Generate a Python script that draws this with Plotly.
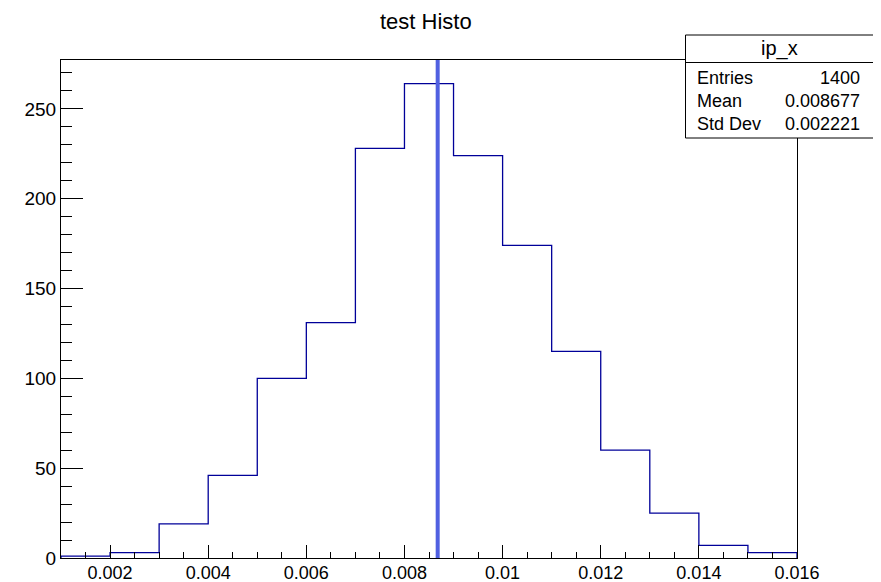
import plotly.graph_objects as go

# ---- data ----
bin_edges = [0.001, 0.002, 0.003, 0.004, 0.005, 0.006, 0.007, 0.008,
             0.009, 0.010, 0.011, 0.012, 0.013, 0.014, 0.015, 0.016]
counts = [1, 3, 19, 46, 100, 131, 228, 264, 224, 174, 115, 60, 25, 7, 3]
x_tickvals = [0.002, 0.004, 0.006, 0.008, 0.010, 0.012, 0.014, 0.016]
x_ticktext = ["0.002", "0.004", "0.006", "0.008", "0.01", "0.012", "0.014", "0.016"]
stat_title = "ip_x"
stat_labels = ["Entries", "Mean", "Std Dev"]
stat_values = ["1400", "0.008677", "0.002221"]
mean_value = 0.008677
title_text = "test Histo"

FONT = "Liberation Sans, Arial, Helvetica, sans-serif"
# page body has an 8px margin; target pixel positions below are in window coords
OFF = 8
WIN_W, WIN_H = 881, 582
PL, PR, PT, PB = 61, 797, 60, 558   # plot frame in window coords
W, H = WIN_W - OFF, WIN_H - OFF
L, T = PL - OFF, PT - OFF
R, B = W - (PR - OFF), H - (PB - OFF)
PW, PH = PR - PL, PB - PT


def px(xp):
    return (xp - PL) / PW


def py(yp):
    return (PB - yp) / PH


xs = [bin_edges[0]] + bin_edges + [bin_edges[-1]]
ys = [0] + counts + [counts[-1], 0]

fig = go.Figure()
fig.add_trace(go.Scatter(
    x=xs, y=ys, mode="lines", line=dict(color="#000099", width=1.3, shape="hv"),
    hoverinfo="skip", showlegend=False))

ymax = max(counts) * 1.05

# mean line
fig.add_trace(go.Scatter(
    x=[mean_value, mean_value], y=[0, ymax], mode="lines",
    line=dict(color="rgb(80,96,225)", width=4), showlegend=False, hoverinfo="skip"))

fig.update_xaxes(
    range=[bin_edges[0], bin_edges[-1]], tickvals=x_tickvals, ticktext=x_ticktext,
    ticks="inside", ticklen=13, tickcolor="black", tickwidth=1,
    minor=dict(dtick=0.0005, ticks="inside", ticklen=6, tickcolor="black", tickwidth=1),
    showline=True, linecolor="black", linewidth=1, mirror=True,
    showgrid=False, zeroline=False, automargin=False, ticklabelstandoff=-2,
    tickfont=dict(family=FONT, size=18, color="black"))
fig.update_yaxes(
    range=[0, ymax], tick0=0, dtick=50,
    ticks="inside", ticklen=22, tickcolor="black", tickwidth=1,
    minor=dict(dtick=10, ticks="inside", ticklen=11, tickcolor="black", tickwidth=1),
    showline=True, linecolor="black", linewidth=1, mirror=True,
    showgrid=False, zeroline=False, automargin=False,
    tickfont=dict(family=FONT, size=19, color="black"))

shapes = []
annotations = []
# stats box
bx0, bx1, by0, by1, bsep = 685.5, 874, 35, 138, 62.5
shapes.append(dict(type="rect", xref="paper", yref="paper",
                   x0=px(bx0), x1=px(bx1), y0=py(by1), y1=py(by0),
                   line=dict(color="black", width=1), fillcolor="white", layer="above"))
shapes.append(dict(type="line", xref="paper", yref="paper",
                   x0=px(bx0), x1=px(bx1), y0=py(bsep), y1=py(bsep),
                   line=dict(color="black", width=1), layer="above"))
annotations.append(dict(text=stat_title, xref="paper", yref="paper",
                        x=px((bx0 + bx1) / 2), y=py(49), xanchor="center", yanchor="middle",
                        showarrow=False, font=dict(family=FONT, size=20, color="black")))
row_y = [77.5, 100.5, 124.5]
for lab, val, yy in zip(stat_labels, stat_values, row_y):
    annotations.append(dict(text=lab, xref="paper", yref="paper", x=px(695), y=py(yy),
                            xanchor="left", yanchor="middle", showarrow=False,
                            font=dict(family=FONT, size=18, color="black")))
    annotations.append(dict(text=val, xref="paper", yref="paper", x=px(862), y=py(yy),
                            xanchor="right", yanchor="middle", showarrow=False,
                            font=dict(family=FONT, size=18, color="black")))
annotations.append(dict(text=title_text, xref="paper", yref="paper", x=px(425.5), y=py(21.5),
                        xanchor="center", yanchor="middle", showarrow=False,
                        font=dict(family=FONT, size=22, color="black")))

fig.update_layout(
    width=W, height=H, margin=dict(l=L, r=R, t=T, b=B, pad=0, autoexpand=False),
    paper_bgcolor="white", plot_bgcolor="white",
    shapes=shapes, annotations=annotations, showlegend=False)

fig.write_html("out.html")
